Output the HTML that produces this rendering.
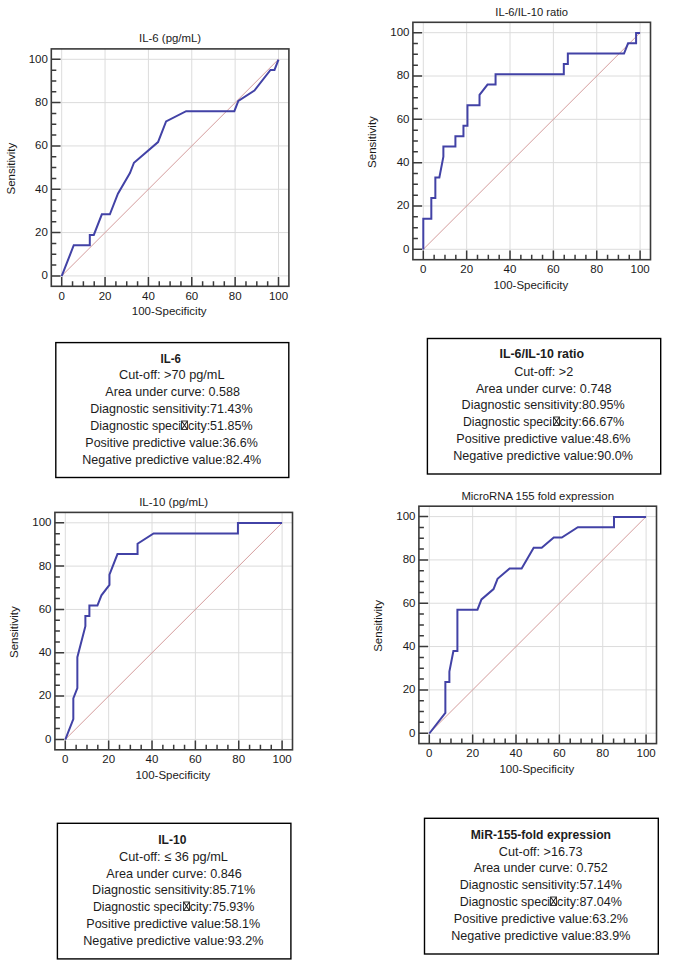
<!DOCTYPE html>
<html><head><meta charset="utf-8"><style>
html,body{margin:0;padding:0;background:#fff;}
body{width:685px;height:960px;overflow:hidden;}
svg{display:block;font-family:"Liberation Sans",sans-serif;}
</style></head><body>
<svg width="685" height="960" viewBox="0 0 685 960">
<rect width="685" height="960" fill="#fff"/>
<path d="M61.7 48.9V286.3M51.3 275.9H288.9M105.06 48.9V286.3M51.3 232.58H288.9M148.42 48.9V286.3M51.3 189.26H288.9M191.78 48.9V286.3M51.3 145.94H288.9M235.14 48.9V286.3M51.3 102.62H288.9M278.5 48.9V286.3M51.3 59.3H288.9" stroke="#dcdcdc" stroke-width="1" fill="none"/>
<path d="M61.7 275.9L278.5 59.3" stroke="#d49c9c" stroke-width="1" fill="none"/>
<path d="M51.3 275.9h9.2M61.7 286.3v-9.2M51.3 265.07h5M72.54 286.3v-5M51.3 254.24h5M83.38 286.3v-5M51.3 243.41h5M94.22 286.3v-5M51.3 232.58h9.2M105.06 286.3v-9.2M51.3 221.75h5M115.9 286.3v-5M51.3 210.92h5M126.74 286.3v-5M51.3 200.09h5M137.58 286.3v-5M51.3 189.26h9.2M148.42 286.3v-9.2M51.3 178.43h5M159.26 286.3v-5M51.3 167.6h5M170.1 286.3v-5M51.3 156.77h5M180.94 286.3v-5M51.3 145.94h9.2M191.78 286.3v-9.2M51.3 135.11h5M202.62 286.3v-5M51.3 124.28h5M213.46 286.3v-5M51.3 113.45h5M224.3 286.3v-5M51.3 102.62h9.2M235.14 286.3v-9.2M51.3 91.79h5M245.98 286.3v-5M51.3 80.96h5M256.82 286.3v-5M51.3 70.13h5M267.66 286.3v-5M51.3 59.3h9.2M278.5 286.3v-9.2" stroke="#3a3a3a" stroke-width="1.5" fill="none"/>
<rect x="51.3" y="48.9" width="237.6" height="237.4" stroke="#3a3a3a" stroke-width="1.6" fill="none"/>
<polyline points="61.7,276.2 73.75,245.25 89.8,245.25 89.8,234.94 93.81,234.94 101.85,214.32 109.87,214.32 117.92,193.68 129.95,173.06 133.96,162.74 158.05,142.12 166.09,121.48 186.16,111.17 234.34,111.17 238.35,100.86 254.41,90.55 270.48,69.91 274.49,69.91 278.5,59.6" stroke="#4242a6" stroke-width="2" fill="none" stroke-linejoin="miter" stroke-linecap="butt"/>
<g font-size="11.5" fill="#1a1a1a"><text x="47.9" y="279.3" text-anchor="end">0</text><text x="61.7" y="299.6" text-anchor="middle">0</text><text x="47.9" y="235.98" text-anchor="end">20</text><text x="105.06" y="299.6" text-anchor="middle">20</text><text x="47.9" y="192.66" text-anchor="end">40</text><text x="148.42" y="299.6" text-anchor="middle">40</text><text x="47.9" y="149.34" text-anchor="end">60</text><text x="191.78" y="299.6" text-anchor="middle">60</text><text x="47.9" y="106.02" text-anchor="end">80</text><text x="235.14" y="299.6" text-anchor="middle">80</text><text x="47.9" y="62.7" text-anchor="end">100</text><text x="278.5" y="299.6" text-anchor="middle">100</text><text x="170.1" y="42.3" text-anchor="middle" font-size="11.4">IL-6 (pg/mL)</text><text x="169.2" y="315.4" text-anchor="middle">100-Specificity</text><text x="14.6" y="168.6" text-anchor="middle" transform="rotate(-90 14.6 168.6)">Sensitivity</text></g>
<path d="M423.3 22.3V259.7M412.9 249.3H650.5M466.66 22.3V259.7M412.9 205.98H650.5M510.02 22.3V259.7M412.9 162.66H650.5M553.38 22.3V259.7M412.9 119.34H650.5M596.74 22.3V259.7M412.9 76.02H650.5M640.1 22.3V259.7M412.9 32.7H650.5" stroke="#dcdcdc" stroke-width="1" fill="none"/>
<path d="M423.3 249.3L640.1 32.7" stroke="#d49c9c" stroke-width="1" fill="none"/>
<path d="M412.9 249.3h9.2M423.3 259.7v-9.2M412.9 238.47h5M434.14 259.7v-5M412.9 227.64h5M444.98 259.7v-5M412.9 216.81h5M455.82 259.7v-5M412.9 205.98h9.2M466.66 259.7v-9.2M412.9 195.15h5M477.5 259.7v-5M412.9 184.32h5M488.34 259.7v-5M412.9 173.49h5M499.18 259.7v-5M412.9 162.66h9.2M510.02 259.7v-9.2M412.9 151.83h5M520.86 259.7v-5M412.9 141h5M531.7 259.7v-5M412.9 130.17h5M542.54 259.7v-5M412.9 119.34h9.2M553.38 259.7v-9.2M412.9 108.51h5M564.22 259.7v-5M412.9 97.68h5M575.06 259.7v-5M412.9 86.85h5M585.9 259.7v-5M412.9 76.02h9.2M596.74 259.7v-9.2M412.9 65.19h5M607.58 259.7v-5M412.9 54.36h5M618.42 259.7v-5M412.9 43.53h5M629.26 259.7v-5M412.9 32.7h9.2M640.1 259.7v-9.2" stroke="#3a3a3a" stroke-width="1.5" fill="none"/>
<rect x="412.9" y="22.3" width="237.6" height="237.4" stroke="#3a3a3a" stroke-width="1.6" fill="none"/>
<polyline points="423.3,249.6 423.3,218.65 431.32,218.65 431.32,198.03 435.35,198.03 435.35,177.41 439.36,177.41 443.38,156.77 443.38,146.46 455.41,146.46 455.41,136.14 463.45,136.14 463.45,125.83 467.46,125.83 467.46,105.19 479.52,105.19 479.52,94.88 487.54,84.57 495.56,84.57 495.56,74.26 563.81,74.26 563.81,63.95 567.84,63.95 567.84,53.62 624.04,53.62 628.05,43.31 636.09,43.31 636.09,33 640.1,33" stroke="#4242a6" stroke-width="2" fill="none" stroke-linejoin="miter" stroke-linecap="butt"/>
<g font-size="11.5" fill="#1a1a1a"><text x="409.5" y="252.7" text-anchor="end">0</text><text x="423.3" y="273" text-anchor="middle">0</text><text x="409.5" y="209.38" text-anchor="end">20</text><text x="466.66" y="273" text-anchor="middle">20</text><text x="409.5" y="166.06" text-anchor="end">40</text><text x="510.02" y="273" text-anchor="middle">40</text><text x="409.5" y="122.74" text-anchor="end">60</text><text x="553.38" y="273" text-anchor="middle">60</text><text x="409.5" y="79.42" text-anchor="end">80</text><text x="596.74" y="273" text-anchor="middle">80</text><text x="409.5" y="36.1" text-anchor="end">100</text><text x="640.1" y="273" text-anchor="middle">100</text><text x="531.7" y="15.7" text-anchor="middle" font-size="11.2">IL-6/IL-10 ratio</text><text x="530.8" y="288.8" text-anchor="middle">100-Specificity</text><text x="376.2" y="142" text-anchor="middle" transform="rotate(-90 376.2 142)">Sensitivity</text></g>
<path d="M65.3 512.4V749.8M54.9 739.4H292.5M108.66 512.4V749.8M54.9 696.08H292.5M152.02 512.4V749.8M54.9 652.76H292.5M195.38 512.4V749.8M54.9 609.44H292.5M238.74 512.4V749.8M54.9 566.12H292.5M282.1 512.4V749.8M54.9 522.8H292.5" stroke="#dcdcdc" stroke-width="1" fill="none"/>
<path d="M65.3 739.4L282.1 522.8" stroke="#d49c9c" stroke-width="1" fill="none"/>
<path d="M54.9 739.4h9.2M65.3 749.8v-9.2M54.9 728.57h5M76.14 749.8v-5M54.9 717.74h5M86.98 749.8v-5M54.9 706.91h5M97.82 749.8v-5M54.9 696.08h9.2M108.66 749.8v-9.2M54.9 685.25h5M119.5 749.8v-5M54.9 674.42h5M130.34 749.8v-5M54.9 663.59h5M141.18 749.8v-5M54.9 652.76h9.2M152.02 749.8v-9.2M54.9 641.93h5M162.86 749.8v-5M54.9 631.1h5M173.7 749.8v-5M54.9 620.27h5M184.54 749.8v-5M54.9 609.44h9.2M195.38 749.8v-9.2M54.9 598.61h5M206.22 749.8v-5M54.9 587.78h5M217.06 749.8v-5M54.9 576.95h5M227.9 749.8v-5M54.9 566.12h9.2M238.74 749.8v-9.2M54.9 555.29h5M249.58 749.8v-5M54.9 544.46h5M260.42 749.8v-5M54.9 533.63h5M271.26 749.8v-5M54.9 522.8h9.2M282.1 749.8v-9.2" stroke="#3a3a3a" stroke-width="1.5" fill="none"/>
<rect x="54.9" y="512.4" width="237.6" height="237.4" stroke="#3a3a3a" stroke-width="1.6" fill="none"/>
<polyline points="65.3,739.7 73.32,719.08 73.32,698.44 77.35,688.13 77.35,657.18 85.38,626.24 85.38,615.93 89.39,615.93 89.39,605.62 97.41,605.62 101.44,595.29 109.46,584.98 109.46,574.67 117.48,554.05 137.56,554.05 137.56,543.72 153.62,533.41 237.94,533.41 237.94,523.1 282.1,523.1" stroke="#4242a6" stroke-width="2" fill="none" stroke-linejoin="miter" stroke-linecap="butt"/>
<g font-size="11.5" fill="#1a1a1a"><text x="51.5" y="742.8" text-anchor="end">0</text><text x="65.3" y="763.1" text-anchor="middle">0</text><text x="51.5" y="699.48" text-anchor="end">20</text><text x="108.66" y="763.1" text-anchor="middle">20</text><text x="51.5" y="656.16" text-anchor="end">40</text><text x="152.02" y="763.1" text-anchor="middle">40</text><text x="51.5" y="612.84" text-anchor="end">60</text><text x="195.38" y="763.1" text-anchor="middle">60</text><text x="51.5" y="569.52" text-anchor="end">80</text><text x="238.74" y="763.1" text-anchor="middle">80</text><text x="51.5" y="526.2" text-anchor="end">100</text><text x="282.1" y="763.1" text-anchor="middle">100</text><text x="173.7" y="505.8" text-anchor="middle" font-size="11.5">IL-10 (pg/mL)</text><text x="172.8" y="778.9" text-anchor="middle">100-Specificity</text><text x="18.2" y="632.1" text-anchor="middle" transform="rotate(-90 18.2 632.1)">Sensitivity</text></g>
<path d="M429.3 506.2V743.6M418.9 733.2H656.5M472.66 506.2V743.6M418.9 689.88H656.5M516.02 506.2V743.6M418.9 646.56H656.5M559.38 506.2V743.6M418.9 603.24H656.5M602.74 506.2V743.6M418.9 559.92H656.5M646.1 506.2V743.6M418.9 516.6H656.5" stroke="#dcdcdc" stroke-width="1" fill="none"/>
<path d="M429.3 733.2L646.1 516.6" stroke="#d49c9c" stroke-width="1" fill="none"/>
<path d="M418.9 733.2h9.2M429.3 743.6v-9.2M418.9 722.37h5M440.14 743.6v-5M418.9 711.54h5M450.98 743.6v-5M418.9 700.71h5M461.82 743.6v-5M418.9 689.88h9.2M472.66 743.6v-9.2M418.9 679.05h5M483.5 743.6v-5M418.9 668.22h5M494.34 743.6v-5M418.9 657.39h5M505.18 743.6v-5M418.9 646.56h9.2M516.02 743.6v-9.2M418.9 635.73h5M526.86 743.6v-5M418.9 624.9h5M537.7 743.6v-5M418.9 614.07h5M548.54 743.6v-5M418.9 603.24h9.2M559.38 743.6v-9.2M418.9 592.41h5M570.22 743.6v-5M418.9 581.58h5M581.06 743.6v-5M418.9 570.75h5M591.9 743.6v-5M418.9 559.92h9.2M602.74 743.6v-9.2M418.9 549.09h5M613.58 743.6v-5M418.9 538.26h5M624.42 743.6v-5M418.9 527.43h5M635.26 743.6v-5M418.9 516.6h9.2M646.1 743.6v-9.2" stroke="#3a3a3a" stroke-width="1.5" fill="none"/>
<rect x="418.9" y="506.2" width="237.6" height="237.4" stroke="#3a3a3a" stroke-width="1.6" fill="none"/>
<polyline points="429.3,733.5 445.36,712.88 445.36,681.93 449.38,681.93 449.38,671.62 453.39,650.98 457.4,650.98 457.4,609.73 477.47,609.73 481.48,599.42 493.54,589.09 497.55,578.78 509.6,568.47 521.64,568.47 533.69,547.85 541.71,547.85 553.76,537.52 561.79,537.52 577.85,527.21 613.99,527.21 613.99,516.9 646.1,516.9" stroke="#4242a6" stroke-width="2" fill="none" stroke-linejoin="miter" stroke-linecap="butt"/>
<g font-size="11.5" fill="#1a1a1a"><text x="415.5" y="736.6" text-anchor="end">0</text><text x="429.3" y="756.9" text-anchor="middle">0</text><text x="415.5" y="693.28" text-anchor="end">20</text><text x="472.66" y="756.9" text-anchor="middle">20</text><text x="415.5" y="649.96" text-anchor="end">40</text><text x="516.02" y="756.9" text-anchor="middle">40</text><text x="415.5" y="606.64" text-anchor="end">60</text><text x="559.38" y="756.9" text-anchor="middle">60</text><text x="415.5" y="563.32" text-anchor="end">80</text><text x="602.74" y="756.9" text-anchor="middle">80</text><text x="415.5" y="520" text-anchor="end">100</text><text x="646.1" y="756.9" text-anchor="middle">100</text><text x="537.7" y="499.6" text-anchor="middle" font-size="11.35">MicroRNA 155 fold expression</text><text x="536.8" y="772.7" text-anchor="middle">100-Specificity</text><text x="382.2" y="625.9" text-anchor="middle" transform="rotate(-90 382.2 625.9)">Sensitivity</text></g>
<g font-size="13" fill="#1c1c1c"><rect x="55.8" y="342.6" width="233" height="134.9" stroke="#000" stroke-width="1.4" fill="none"/>
<text x="160.56" y="362.6" textLength="20.36" lengthAdjust="spacingAndGlyphs" font-weight="bold">IL-6</text>
<text x="119.06" y="379.3" textLength="105.5" lengthAdjust="spacingAndGlyphs">Cut-off: &gt;70 pg/mL</text>
<text x="105.36" y="396.1" textLength="134.5" lengthAdjust="spacingAndGlyphs">Area under curve: 0.588</text>
<text x="90.26" y="413.1" textLength="162.3" lengthAdjust="spacingAndGlyphs">Diagnostic sensitivity:71.43%</text>
<text x="90.26" y="429.7" textLength="90.76" lengthAdjust="spacingAndGlyphs">Diagnostic speci</text>
<rect x="181.5" y="421" width="6" height="8.5" stroke="#3a3a3a" stroke-width="1" fill="none"/>
<path d="M181.8 421.3L187.2 429.2M187.2 421.3L181.8 429.2" stroke="#222" stroke-width="1.1" fill="none"/>
<text x="187.88" y="429.7" textLength="64.68" lengthAdjust="spacingAndGlyphs">city:51.85%</text>
<text x="85.34" y="446.7" textLength="172.44" lengthAdjust="spacingAndGlyphs">Positive predictive value:36.6%</text>
<text x="82.34" y="463.6" textLength="178.94" lengthAdjust="spacingAndGlyphs">Negative predictive value:82.4%</text></g>
<g font-size="13" fill="#1c1c1c"><rect x="427.4" y="338.5" width="233.3" height="135.5" stroke="#000" stroke-width="1.4" fill="none"/>
<text x="499.48" y="358.4" textLength="84.66" lengthAdjust="spacingAndGlyphs" font-weight="bold">IL-6/IL-10 ratio</text>
<text x="514.28" y="375.9" textLength="58.94" lengthAdjust="spacingAndGlyphs">Cut-off: &gt;2</text>
<text x="475.92" y="392.6" textLength="135.58" lengthAdjust="spacingAndGlyphs">Area under curve: 0.748</text>
<text x="461.62" y="409.2" textLength="163.16" lengthAdjust="spacingAndGlyphs">Diagnostic sensitivity:80.95%</text>
<text x="462.92" y="425.9" textLength="89" lengthAdjust="spacingAndGlyphs">Diagnostic speci</text>
<rect x="553.5" y="417" width="6" height="8.5" stroke="#3a3a3a" stroke-width="1" fill="none"/>
<path d="M553.8 417.3L559.2 425.2M559.2 417.3L553.8 425.2" stroke="#222" stroke-width="1.1" fill="none"/>
<text x="559.48" y="425.9" textLength="64.8" lengthAdjust="spacingAndGlyphs">city:66.67%</text>
<text x="456.26" y="442.9" textLength="174.1" lengthAdjust="spacingAndGlyphs">Positive predictive value:48.6%</text>
<text x="453.26" y="460" textLength="179.74" lengthAdjust="spacingAndGlyphs">Negative predictive value:90.0%</text></g>
<g font-size="13" fill="#1c1c1c"><rect x="57.4" y="823.3" width="233.5" height="135.6" stroke="#000" stroke-width="1.4" fill="none"/>
<text x="158.2" y="843.8" textLength="28.16" lengthAdjust="spacingAndGlyphs" font-weight="bold">IL-10</text>
<text x="119.06" y="860.9" textLength="108.86" lengthAdjust="spacingAndGlyphs">Cut-off: ≤ 36 pg/mL</text>
<text x="106.28" y="877.6" textLength="135.58" lengthAdjust="spacingAndGlyphs">Area under curve: 0.846</text>
<text x="92.12" y="894.2" textLength="163.02" lengthAdjust="spacingAndGlyphs">Diagnostic sensitivity:85.71%</text>
<text x="92.92" y="910.9" textLength="89.16" lengthAdjust="spacingAndGlyphs">Diagnostic speci</text>
<rect x="183.5" y="902" width="6" height="8.5" stroke="#3a3a3a" stroke-width="1" fill="none"/>
<path d="M183.8 902.3L189.2 910.2M189.2 902.3L183.8 910.2" stroke="#222" stroke-width="1.1" fill="none"/>
<text x="189.74" y="910.9" textLength="64.68" lengthAdjust="spacingAndGlyphs">city:75.93%</text>
<text x="86.26" y="927.9" textLength="173.88" lengthAdjust="spacingAndGlyphs">Positive predictive value:58.1%</text>
<text x="83.26" y="945" textLength="180.24" lengthAdjust="spacingAndGlyphs">Negative predictive value:93.2%</text></g>
<g font-size="13" fill="#1c1c1c"><rect x="424.5" y="818.3" width="233.8" height="135.7" stroke="#000" stroke-width="1.4" fill="none"/>
<text x="470.7" y="838.6" textLength="140.3" lengthAdjust="spacingAndGlyphs" font-weight="bold">MiR-155-fold expression</text>
<text x="498.84" y="855.7" textLength="83.66" lengthAdjust="spacingAndGlyphs">Cut-off: &gt;16.73</text>
<text x="473.64" y="872.2" textLength="134.14" lengthAdjust="spacingAndGlyphs">Area under curve: 0.752</text>
<text x="459.7" y="888.9" textLength="162.22" lengthAdjust="spacingAndGlyphs">Diagnostic sensitivity:57.14%</text>
<text x="459.7" y="905.6" textLength="90.43" lengthAdjust="spacingAndGlyphs">Diagnostic speci</text>
<rect x="550.5" y="897" width="6" height="8.5" stroke="#3a3a3a" stroke-width="1" fill="none"/>
<path d="M550.8 897.3L556.2 905.2M556.2 897.3L550.8 905.2" stroke="#222" stroke-width="1.1" fill="none"/>
<text x="557.12" y="905.6" textLength="64.8" lengthAdjust="spacingAndGlyphs">city:87.04%</text>
<text x="453.84" y="922.7" textLength="174.02" lengthAdjust="spacingAndGlyphs">Positive predictive value:63.2%</text>
<text x="451.2" y="939.6" textLength="179.3" lengthAdjust="spacingAndGlyphs">Negative predictive value:83.9%</text></g>
</svg>
</body></html>
